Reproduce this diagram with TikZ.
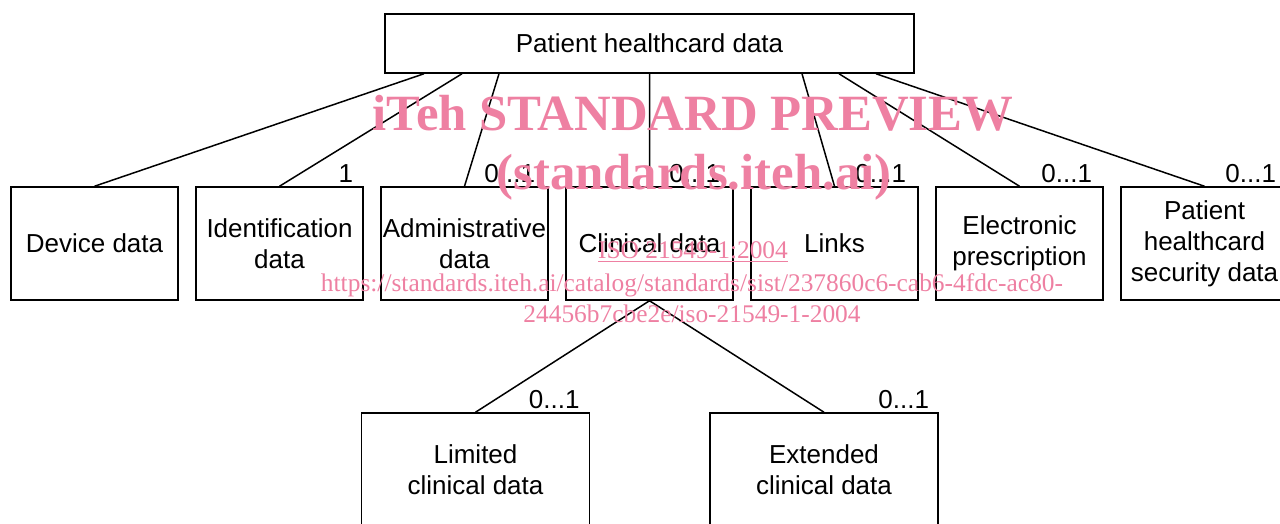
\documentclass[tikz,border=0pt]{standalone}
\usepackage{fontspec}
\setmainfont{Liberation Sans}
\newfontfamily\wmfont{Liberation Serif}
\usetikzlibrary{positioning}
\definecolor{wmpink}{RGB}{238,128,162}

\begin{document}
\begin{tikzpicture}[node distance=92.5pt,on grid,line width=0.75pt,
    box/.style={draw,minimum width=83.5pt,minimum height=56.5pt,align=center,
      inner sep=0.5pt,font=\fontsize{13}{15.5}\selectfont},
    mult/.style={inner sep=0pt,anchor=base east,font=\fontsize{13}{15.5}\selectfont},
    wmbig/.style={inner sep=0pt,anchor=base,text=wmpink,font=\wmfont\bfseries\fontsize{25.4}{28}\selectfont},
    wmsmall/.style={inner sep=0pt,anchor=base,text=wmpink,font=\wmfont\fontsize{12.7}{14}\selectfont}]
      \useasboundingbox (0,0) rectangle (640pt,-262pt);

      \node[box,minimum width=264.5pt,minimum height=29.5pt] (phd) at (324.75pt,-21.75pt) {Patient healthcard data};
      \node[box] (clin)  [below=100pt of phd] {Clinical data};
      \node[box] (adm)   [left=of clin]       {Administrative\\data};
      \node[box] (ident) [left=of adm]        {Identification\\data};
      \node[box] (dev)   [left=of ident]      {Device data};
      \node[box] (links) [right=of clin]      {Links};
      \node[box] (epres) [right=of links]     {Electronic\\prescription};
      \node[box] (psec)  [right=of epres]     {Patient\\healthcard\\security data};
      \node[box,minimum width=114pt] (lim) [below left=113pt and 87pt of clin]     {Limited\\clinical data};
      \node[box,minimum width=114pt] (ext) [below right=113pt and 87.25pt of clin] {Extended\\clinical data};

      \draw ([xshift=-112.75pt]phd.south) -- (dev.north)
            ([xshift=-93.75pt]phd.south)  -- (ident.north)
            ([xshift=-75.25pt]phd.south)  -- (adm.north)
            (phd.south)                   -- (clin.north)
            ([xshift=76.25pt]phd.south)   -- (links.north)
            ([xshift=94.75pt]phd.south)   -- (epres.north)
            ([xshift=113.25pt]phd.south)  -- (psec.north)
            (clin.south)                  -- (lim.north)
            (clin.south)                  -- (ext.north);

      \node[mult] at ([xshift=-5pt,yshift=2pt]ident.north east) {1};
      \node[mult] at ([xshift=-6.5pt,yshift=2pt]adm.north east)  {0...1};
      \node[mult] at ([xshift=-6.5pt,yshift=2pt]clin.north east) {0...1};
      \node[mult] at ([xshift=-6pt,yshift=2pt]links.north east)  {0...1};
      \node[mult] at ([xshift=-5.5pt,yshift=2pt]epres.north east) {0...1};
      \node[mult] at ([xshift=-6pt,yshift=2pt]psec.north east)   {0...1};
      \node[mult] at ([xshift=-5pt,yshift=2pt]lim.north east)    {0...1};
      \node[mult] at ([xshift=-4.5pt,yshift=2pt]ext.north east)  {0...1};

      % watermark
      \node[wmbig]   (wm1) at (346.5pt,-65.5pt)  {iTeh STANDARD PREVIEW};
      \node[wmbig]   (wm2) at (347pt,-95pt)      {(standards.iteh.ai)};
      \node[wmsmall] (wm3) at (346.5pt,-129pt)   {\underline{ISO 21549-1:2004}};
      \node[wmsmall] (wm4) at (346pt,-145.5pt)   {https://standards.iteh.ai/catalog/standards/sist/237860c6-cab6-4fdc-ac80-};
      \node[wmsmall] (wm5) at (346pt,-161pt)     {24456b7cbe2e/iso-21549-1-2004};
\end{tikzpicture}
\end{document}
